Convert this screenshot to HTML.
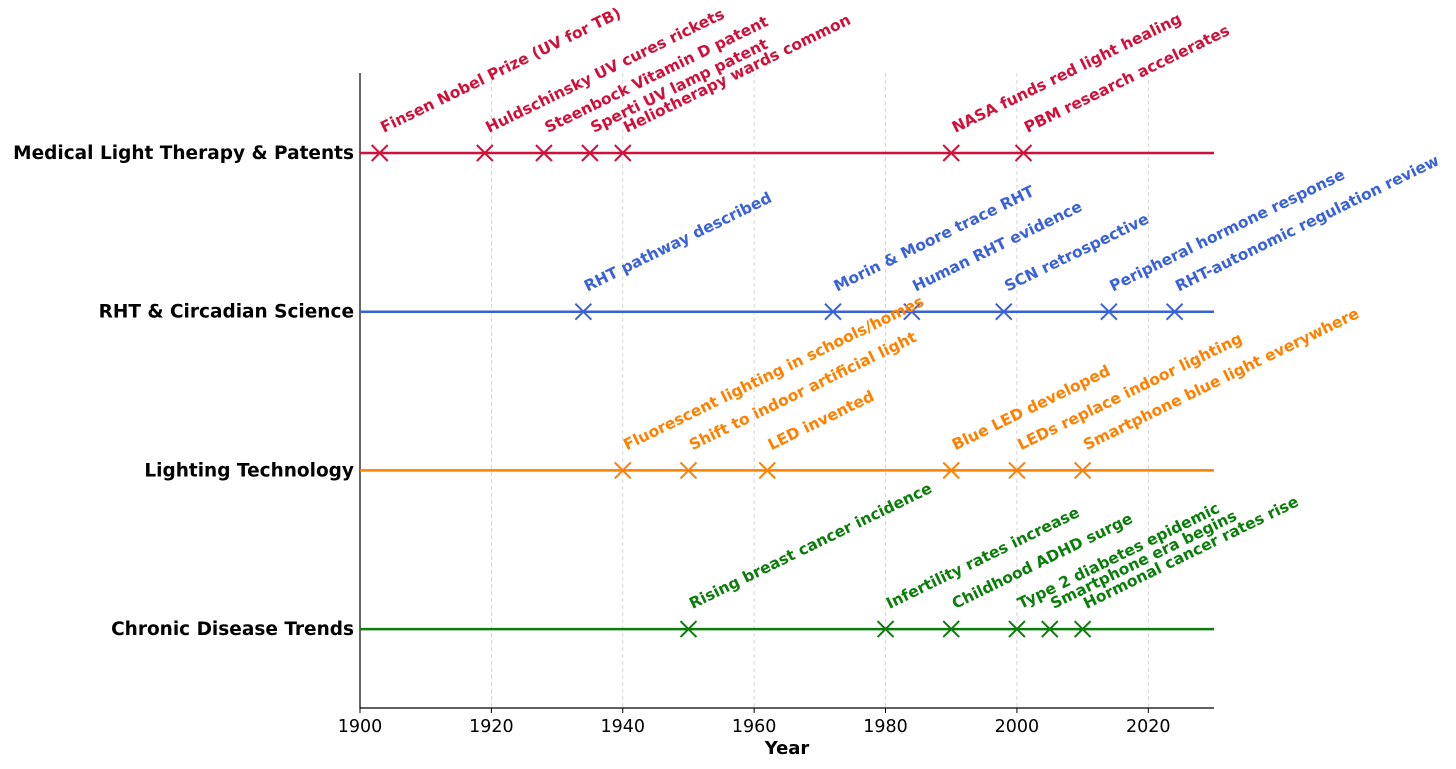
<!DOCTYPE html>
<html><head><meta charset="utf-8"><style>body{margin:0;background:#fff}svg{display:block}</style></head>
<body>
<svg id="chart" width="1456" height="769" xmlns="http://www.w3.org/2000/svg" font-family="DejaVu Sans, Liberation Sans, sans-serif"></svg>
<script>
const categories = ["Medical Light Therapy & Patents","RHT & Circadian Science","Lighting Technology","Chronic Disease Trends"];
const colors = ["#d0103a","#3a62d6","#ff8000","#0a7d0a"];
const medicalYears = [1903,1919,1928,1935,1940,1990,2001];
const medicalLabels = ["Finsen Nobel Prize (UV for TB)","Huldschinsky UV cures rickets","Steenbock Vitamin D patent","Sperti UV lamp patent","Heliotherapy wards common","NASA funds red light healing","PBM research accelerates"];
const rhtYears = [1934,1972,1984,1998,2014,2024];
const rhtLabels = ["RHT pathway described","Morin & Moore trace RHT","Human RHT evidence","SCN retrospective","Peripheral hormone response","RHT-autonomic regulation review"];
const lightYears = [1940,1950,1962,1990,2000,2010];
const lightLabels = ["Fluorescent lighting in schools/homes","Shift to indoor artificial light","LED invented","Blue LED developed","LEDs replace indoor lighting","Smartphone blue light everywhere"];
const diseaseYears = [1950,1980,1990,2000,2005,2010];
const diseaseLabels = ["Rising breast cancer incidence","Infertility rates increase","Childhood ADHD surge","Type 2 diabetes epidemic","Smartphone era begins","Hormonal cancer rates rise"];
const xTicks = [1900,1920,1940,1960,1980,2000,2020];

const svg = document.getElementById('chart');
const NS = "http://www.w3.org/2000/svg";
const X0=360, X1=1214, Y0=73, Y1=708;
const xScale = v => X0 + (v-1900)/(2030-1900)*(X1-X0);
const yScale = i => 153 + i*158.7;
function mk(tag, attrs, parent){const e=document.createElementNS(NS,tag);for(const k in attrs)e.setAttribute(k,attrs[k]);(parent||svg).appendChild(e);return e;}

xTicks.forEach(t=>{
  const g=mk('line',{x1:xScale(t),x2:xScale(t),y1:Y0,y2:Y1,stroke:'#ccc','stroke-dasharray':'4,3','stroke-width':0.8});
  
  
  const tk=mk('line',{x1:xScale(t),x2:xScale(t),y1:Y1,y2:Y1+5,stroke:'#000'});
  
  
  const tl=mk('text',{x:xScale(t),y:Y1+24,'text-anchor':'middle','font-size':17.5});
  tl.textContent=t;
  
  
});
const ax=mk('path',{d:`M${X0} ${Y0} V${Y1} H${X1}`,fill:'none',stroke:'#000','stroke-width':1.2});


const xt=mk('text',{x:787,y:754,'text-anchor':'middle','font-size':18,'font-weight':'bold'});
xt.textContent='Year';



const series=[[medicalYears,medicalLabels],[rhtYears,rhtLabels],[lightYears,lightLabels],[diseaseYears,diseaseLabels]];
series.forEach(([yrs,lbls],i)=>{
  const y=yScale(i), c=colors[i];
  const yl=mk('text',{x:354,y:y+6,'text-anchor':'end','font-size':18.5,'font-weight':'bold'});
  yl.textContent=categories[i];
  
  
  const ln=mk('line',{x1:X0,x2:X1,y1:y,y2:y,stroke:c,'stroke-width':2.5});
  
  
  yrs.forEach((yr,j)=>{
    const x=xScale(yr);
    const m=mk('path',{d:`M${x-8} ${y-8}L${x+8} ${y+8}M${x-8} ${y+8}L${x+8} ${y-8}`,stroke:c,'stroke-width':2,fill:'none'});
    
    
    const tx=x+4, ty=y-20;
    const t=mk('text',{x:tx,y:ty,fill:c,'font-size':15.5,'font-weight':'bold',transform:`rotate(-26 ${tx} ${ty})`});
    t.textContent=lbls[j];
    
    
  });
});
</script>
</body></html>
